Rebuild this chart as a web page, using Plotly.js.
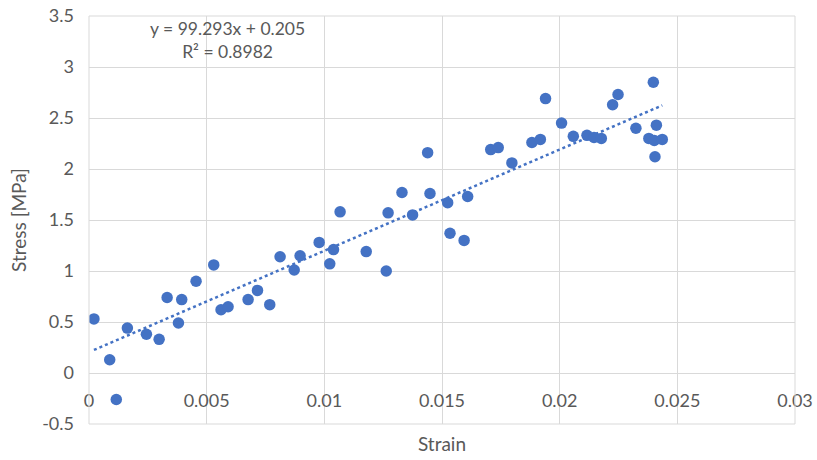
<!DOCTYPE html>
<html>
<head>
<meta charset="utf-8">
<script src="https://cdn.plot.ly/plotly-3.0.1.min.js"></script>
<style>
  html, body { margin: 0; padding: 0; background: #fff; }
  #chart { width: 817px; height: 460px; }
</style>
</head>
<body>
<div id="chart"></div>
<script>
// Measured strain / stress pairs
const strain = [
  0.00021, 0.00088, 0.00116, 0.00163, 0.00244, 0.00298, 0.00332, 0.00380, 0.00394, 0.00455,
  0.00530, 0.00561, 0.00591, 0.00676, 0.00716, 0.00768, 0.00812, 0.00872, 0.00897, 0.00978,
  0.01023, 0.01039, 0.01067, 0.01178, 0.01263, 0.01271, 0.01330, 0.01375, 0.01439, 0.01449,
  0.01524, 0.01534, 0.01594, 0.01609, 0.01707, 0.01739, 0.01797, 0.01882, 0.01918, 0.01940,
  0.02008, 0.02058, 0.02116, 0.02146, 0.02177, 0.02225, 0.02248, 0.02324, 0.02379, 0.02398,
  0.02402, 0.02405, 0.02411, 0.02436
];
const stress = [
  0.53, 0.13, -0.26, 0.44, 0.38, 0.33, 0.74, 0.49, 0.72, 0.90,
  1.06, 0.62, 0.65, 0.72, 0.81, 0.67, 1.14, 1.01, 1.15, 1.28,
  1.07, 1.21, 1.58, 1.19, 1.00, 1.57, 1.77, 1.55, 2.16, 1.76,
  1.67, 1.37, 1.30, 1.73, 2.19, 2.21, 2.06, 2.26, 2.29, 2.69,
  2.45, 2.32, 2.33, 2.31, 2.30, 2.63, 2.73, 2.40, 2.30, 2.85,
  2.28, 2.12, 2.43, 2.29
];

// Linear fit coefficients shown in the equation label
const slope = 99.293;
const intercept = 0.205;
const rSquared = 0.8982;

const xTicks = [0, 0.005, 0.01, 0.015, 0.02, 0.025, 0.03];
const xTickText = ['0', '0.005', '0.01', '0.015', '0.02', '0.025', '0.03'];
const yTicks = [-0.5, 0, 0.5, 1, 1.5, 2, 2.5, 3, 3.5];
const yTickText = ['-0.5', '0', '0.5', '1', '1.5', '2', '2.5', '3', '3.5'];

const blue = '#4472C4';
const grey = '#595959';
const gridGrey = '#d9d9d9';
const font = 'Lato, "Open Sans", sans-serif';

const xMin = Math.min(...strain);
const xMax = Math.max(...strain);
const fitX = [xMin, xMax];
const fitY = fitX.map(v => slope * v + intercept);

const traces = [
  {
    x: fitX, y: fitY, type: 'scatter', mode: 'lines',
    line: { color: blue, width: 2.5, dash: 'dot' },
    hoverinfo: 'skip', showlegend: false
  },
  {
    x: strain, y: stress, type: 'scatter', mode: 'markers',
    marker: { color: blue, size: 11.5, line: { width: 0 } },
    showlegend: false
  }
];

const yRange = [-0.5, 3.5];
const zeroFrac = (0 - yRange[0]) / (yRange[1] - yRange[0]);

const layout = {
  width: 817, height: 460,
  margin: { l: 89, r: 22, t: 16, b: 36 },
  paper_bgcolor: '#fff', plot_bgcolor: '#fff',
  font: { family: font, color: grey, size: 18 },
  xaxis: {
    range: [0, 0.03],
    tickvals: xTicks, ticktext: xTickText,
    showgrid: true, gridcolor: gridGrey, gridwidth: 1,
    zeroline: false, showline: false,
    anchor: 'free', position: zeroFrac,
    ticks: '', ticklabelstandoff: 15,
    tickfont: { family: font, size: 18, color: grey },
    title: { text: 'Strain', font: { family: font, size: 19, color: grey }, standoff: 27 },
    fixedrange: true
  },
  yaxis: {
    range: yRange,
    tickvals: yTicks, ticktext: yTickText,
    showgrid: true, gridcolor: gridGrey, gridwidth: 1,
    zeroline: false, showline: false,
    ticks: '', ticklabelstandoff: 14,
    tickfont: { family: font, size: 18, color: grey },
    title: { text: 'Stress [MPa]', font: { family: font, size: 19, color: grey }, standoff: 10 },
    fixedrange: true
  },
  shapes: [
    { type: 'line', xref: 'paper', yref: 'paper', x0: 0, x1: 1, y0: 0, y1: 0, line: { color: gridGrey, width: 1 } },
    { type: 'line', xref: 'paper', yref: 'paper', x0: 0, x1: 1, y0: 1, y1: 1, line: { color: gridGrey, width: 1 } },
    { type: 'line', xref: 'paper', yref: 'paper', x0: 0, x1: 0, y0: 0, y1: 1, line: { color: gridGrey, width: 1 } },
    { type: 'line', xref: 'paper', yref: 'paper', x0: 1, x1: 1, y0: 0, y1: 1, line: { color: gridGrey, width: 1 } }
  ],
  annotations: [
    {
      xref: 'paper', yref: 'paper', x: (227.5 - 89) / (817 - 89 - 22), y: 1.0,
      xanchor: 'center', yanchor: 'top', yshift: 0,
      text: 'y = ' + slope.toFixed(3) + 'x + ' + intercept.toFixed(3) + '<br>R² = ' + rSquared.toFixed(4),
      showarrow: false, align: 'center',
      font: { family: font, size: 17.5, color: grey }
    }
  ]
};

Plotly.newPlot('chart', traces, layout, { displayModeBar: false, staticPlot: true });
</script>
</body>
</html>
